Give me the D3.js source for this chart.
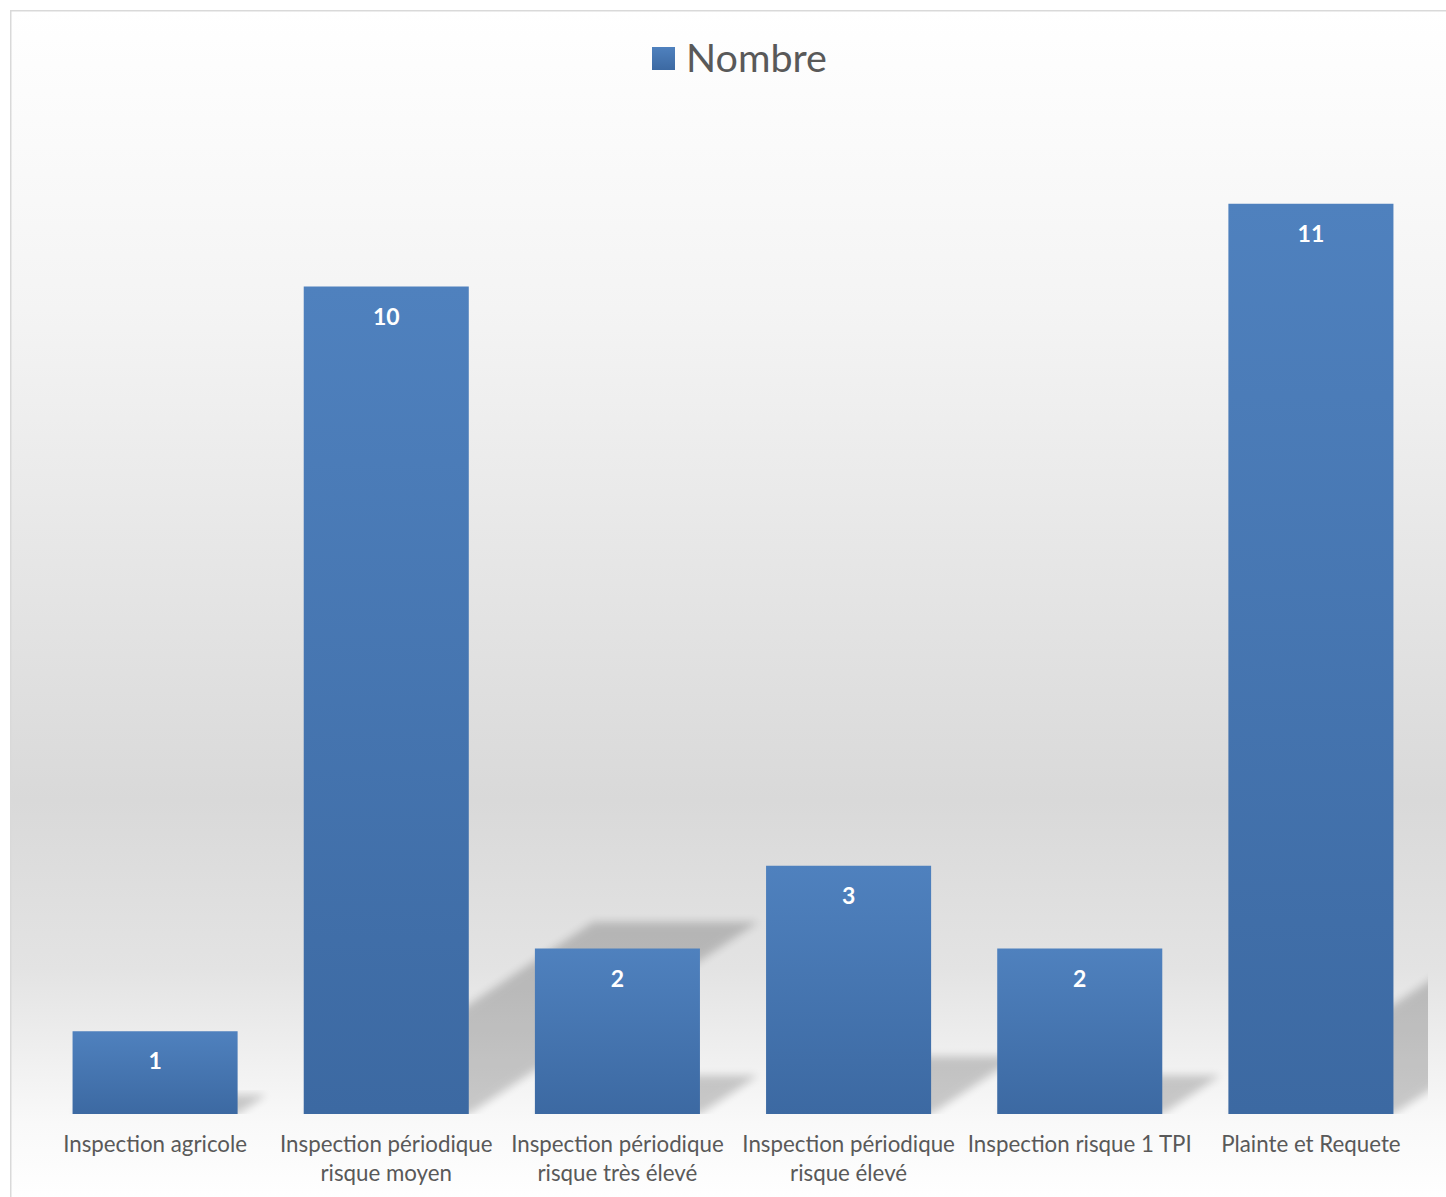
<!DOCTYPE html>
<html>
<head>
<meta charset="utf-8">
<script src="https://cdn.jsdelivr.net/npm/d3@7"></script>
<style>
  html, body { margin: 0; padding: 0; background: #ffffff; }
  svg { display: block; font-family: Lato, "Open Sans", sans-serif; }
</style>
</head>
<body>
<div id="chart"></div>
<script>
var width = 1446,
    height = 1197;

// data
var categories = [
    ["Inspection agricole"],
    ["Inspection périodique", "risque moyen"],
    ["Inspection périodique", "risque très élevé"],
    ["Inspection périodique", "risque élevé"],
    ["Inspection risque 1 TPI"],
    ["Plainte et Requete"]
];
var values = [1, 10, 2, 3, 2, 11];
var seriesName = "Nombre";

var svg = d3.select("#chart")
    .append("svg")
    .attr("width", width)
    .attr("height", height);

var defs = svg.append("defs");

// chart background, white -> grey -> white
var bg = defs.append("linearGradient")
    .attr("id", "bg")
    .attr("x1", 0).attr("y1", 0).attr("x2", 0).attr("y2", 1);
bg.append("stop").attr("offset", "0%").attr("stop-color", "#ffffff");
bg.append("stop").attr("offset", "25%").attr("stop-color", "#f4f4f4");
bg.append("stop").attr("offset", "66%").attr("stop-color", "#d9d9d9");
bg.append("stop").attr("offset", "80%").attr("stop-color", "#e3e3e3");
bg.append("stop").attr("offset", "93%").attr("stop-color", "#f9f9f9");
bg.append("stop").attr("offset", "100%").attr("stop-color", "#ffffff");

var barGrad = defs.append("linearGradient")
    .attr("id", "bar")
    .attr("x1", 0).attr("y1", 0).attr("x2", 0).attr("y2", 1);
barGrad.append("stop").attr("offset", "0%").attr("stop-color", "#4f81be");
barGrad.append("stop").attr("offset", "100%").attr("stop-color", "#3c69a2");

defs.append("filter")
    .attr("id", "blur")
    .attr("x", "-20%").attr("y", "-20%")
    .attr("width", "140%").attr("height", "140%")
    .append("feGaussianBlur")
    .attr("stdDeviation", 4);

defs.append("clipPath")
    .attr("id", "plotclip")
    .append("rect")
    .attr("x", 10).attr("y", 10)
    .attr("width", 1418).attr("height", 1104);

svg.append("rect")
    .attr("x", 10)
    .attr("y", 10)
    .attr("width", width)
    .attr("height", height)
    .style("fill", "url(#bg)");

// border (only left and top are in view)
svg.append("path")
    .attr("d", "M10.75," + height + "V10.75H" + width)
    .style("fill", "none")
    .style("stroke", "#d9d9d9")
    .style("stroke-width", 1.5);

var x = d3.scaleBand()
    .domain(d3.range(values.length))
    .range([39.5, 1426.5])
    .paddingInner(0.286)
    .paddingOuter(0.143);

var y = d3.scaleLinear()
    .domain([0, 12])
    .range([1114, 121]);

// perspective shadows behind bars
var skew = 0.35, squash = 0.232;
svg.append("g")
    .attr("clip-path", "url(#plotclip)")
    .selectAll("path")
    .data(values)
    .join("path")
    .attr("d", function(d, i) {
        var x0 = x(i), x1 = x(i) + x.bandwidth();
        var h = y(0) - y(d);
        var dx = h * skew, top = y(0) - h * squash;
        return "M" + x0 + "," + y(0) + "L" + x1 + "," + y(0) +
            "L" + (x1 + dx) + "," + top + "L" + (x0 + dx) + "," + top + "Z";
    })
    .attr("filter", "url(#blur)")
    .style("fill", "#000")
    .style("opacity", 0.19);

svg.append("g")
    .selectAll("rect")
    .data(values)
    .join("rect")
    .attr("x", function(d, i) { return x(i); })
    .attr("y", function(d) { return y(d); })
    .attr("width", x.bandwidth())
    .attr("height", function(d) { return y(0) - y(d); })
    .style("fill", "url(#bar)");

svg.append("g")
    .selectAll("text")
    .data(values)
    .join("text")
    .attr("x", function(d, i) { return x(i) + x.bandwidth() / 2; })
    .attr("y", function(d) { return y(d) + 38; })
    .attr("text-anchor", "middle")
    .style("fill", "white")
    .style("font-size", "23px")
    .style("font-weight", 700)
    .text(function(d) { return d; });

// category labels
var labels = svg.append("g")
    .selectAll("text")
    .data(categories)
    .join("text")
    .attr("x", function(d, i) { return x(i) + x.bandwidth() / 2; })
    .attr("y", 1152)
    .attr("text-anchor", "middle")
    .style("fill", "#595959")
    .style("font-size", "22.3px");

labels.selectAll("tspan")
    .data(function(d) { return d; })
    .join("tspan")
    .attr("x", function() { return this.parentNode.getAttribute("x"); })
    .attr("dy", function(d, j) { return j ? 29 : 0; })
    .text(function(d) { return d; });

// legend
var legend = svg.append("g");
legend.append("rect")
    .attr("x", 652)
    .attr("y", 47)
    .attr("width", 23)
    .attr("height", 23)
    .style("fill", "url(#bar)");
legend.append("text")
    .attr("x", 686)
    .attr("y", 72)
    .style("fill", "#595959")
    .style("font-size", "39.5px")
    .text(seriesName);
</script>
</body>
</html>
